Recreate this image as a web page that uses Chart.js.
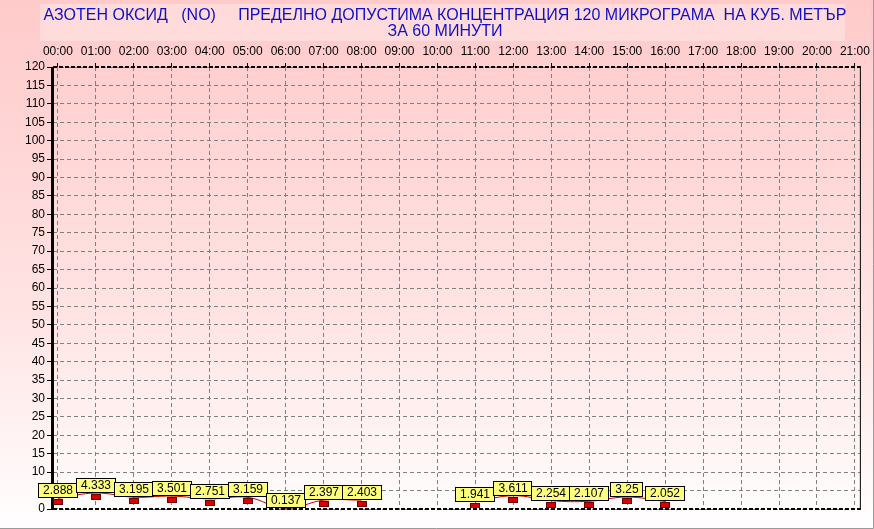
<!DOCTYPE html>
<html>
<head>
<meta charset="utf-8">
<script src="https://cdn.jsdelivr.net/npm/chart.js@4.4.1/dist/chart.umd.min.js"></script>
<style>
  html, body { margin: 0; padding: 0; background: #fff; }
  #chart { display: block; }
</style>
</head>
<body>
<canvas id="chart" width="874" height="529"></canvas>
<script>
// Data definitions
const hourLabels = ['00:00', '01:00', '02:00', '03:00', '04:00', '05:00', '06:00', '07:00', '08:00', '09:00', '10:00',
  '11:00', '12:00', '13:00', '14:00', '15:00', '16:00', '17:00', '18:00', '19:00', '20:00', '21:00'];
const noValues = [2.888, 4.333, 3.195, 3.501, 2.751, 3.159, 0.137, 2.397, 2.403, null, null, 1.941, 3.611, 2.254, 2.107, 3.25, 2.052];
const yTickValues = [0, 5, 10, 15, 20, 25, 30, 35, 40, 45, 50, 55, 60, 65, 70, 75, 80, 85, 90, 95, 100, 105, 110, 115, 120];
const titleLines = ['АЗОТЕН ОКСИД   (NO)     ПРЕДЕЛНО ДОПУСТИМА КОНЦЕНТРАЦИЯ 120 МИКРОГРАМА  НА КУБ. МЕТЪР', 'ЗА 60 МИНУТИ'];

const FONT = '"Liberation Sans", Arial, sans-serif';

// background gradient + title box, borders and value boxes on top
const backdrop = {
  id: 'backdrop',
  beforeDraw(chart) {
    const ctx = chart.ctx;
    const w = chart.width, h = chart.height;
    ctx.save();
    const g = ctx.createLinearGradient(0, 0, 0, h);
    g.addColorStop(0, '#ffcaca');
    g.addColorStop(0.6, '#ffe4e4');
    g.addColorStop(1, '#ffffff');
    ctx.fillStyle = g;
    ctx.fillRect(0, 0, w, h);
    ctx.fillStyle = 'rgba(255,255,255,0.3)';
    ctx.fillRect(40, 4, 805, 37);
    ctx.fillStyle = '#1010c0';
    ctx.font = '16px ' + FONT;
    ctx.textAlign = 'center';
    ctx.textBaseline = 'middle';
    ctx.fillText(titleLines[0], 445, 16);
    ctx.fillText(titleLines[1], 445, 32);
    ctx.restore();
  },
  afterDraw(chart) {
    const ctx = chart.ctx;
    const a = chart.chartArea;
    ctx.save();
    ctx.strokeStyle = '#000';
    // left axis
    ctx.lineWidth = 3;
    ctx.beginPath(); ctx.moveTo(a.left - 0.5, a.top); ctx.lineTo(a.left - 0.5, a.bottom + 1); ctx.stroke();
    // right border
    ctx.lineWidth = 1;
    ctx.beginPath(); ctx.moveTo(a.right + 0.5, a.top); ctx.lineTo(a.right + 0.5, a.bottom); ctx.stroke();
    // top / bottom dashed
    ctx.lineWidth = 2;
    ctx.setLineDash([4, 2]);
    ctx.beginPath(); ctx.moveTo(a.left, a.top); ctx.lineTo(a.right + 1, a.top); ctx.stroke();
    ctx.beginPath(); ctx.moveTo(a.left, a.bottom); ctx.lineTo(a.right + 1, a.bottom); ctx.stroke();
    ctx.setLineDash([]);
    // window frame
    ctx.strokeStyle = '#9a9a9a';
    ctx.lineWidth = 1;
    ctx.beginPath();
    ctx.moveTo(chart.width - 0.5, 0); ctx.lineTo(chart.width - 0.5, chart.height - 0.5); ctx.lineTo(0, chart.height - 0.5);
    ctx.stroke();

    // markers (clipped to plot) and yellow value boxes
    const meta = chart.getDatasetMeta(0);
    ctx.font = '12px ' + FONT;
    ctx.textAlign = 'center';
    ctx.textBaseline = 'middle';
    meta.data.forEach((pt, i) => {
      const v = noValues[i];
      if (v === null) return;
      const x = Math.round(pt.x), y = Math.round(pt.y);
      ctx.save();
      ctx.beginPath();
      ctx.rect(a.left, a.top, a.right - a.left, a.bottom - a.top - 1);
      ctx.clip();
      ctx.fillStyle = '#d80000';
      ctx.fillRect(x - 5, y + 1, 10, 6);
      ctx.strokeStyle = '#700000';
      ctx.lineWidth = 1;
      ctx.strokeRect(x - 4.5, y + 1.5, 9, 5);
      ctx.restore();
      const txt = String(v);
      const bw = Math.round(ctx.measureText(txt).width) + 10;
      const bx = x - Math.round(bw / 2);
      ctx.fillStyle = '#ffff80';
      ctx.fillRect(bx, y - 15, bw, 15);
      ctx.strokeStyle = '#000';
      ctx.lineWidth = 1;
      ctx.strokeRect(bx + 0.5, y - 14.5, bw - 1, 14);
      ctx.fillStyle = '#000';
      ctx.fillText(txt, x, y - 7);
    });
    ctx.restore();
  }
};

new Chart(document.getElementById('chart').getContext('2d'), {
  type: 'line',
  data: {
    datasets: [{
      label: 'NO',
      data: noValues.map((v, i) => ({ x: i, y: v })),
      borderColor: '#c00000',
      borderWidth: 1,
      pointRadius: 0,
      tension: 0.4,
      spanGaps: false
    }]
  },
  options: {
    responsive: false,
    animation: false,
    layout: { padding: { top: 0, right: 9, bottom: 20, left: 0 } },
    plugins: {
      legend: { display: false },
      tooltip: { enabled: false }
    },
    scales: {
      x: {
        type: 'linear',
        position: 'top',
        min: -0.13,
        max: 21.13,
        afterBuildTicks(scale) {
          scale.ticks = hourLabels.map((_, i) => ({ value: i }));
        },
        afterFit(scale) { scale.height = 67; },
        ticks: {
          autoSkip: false,
          maxRotation: 0,
          padding: 4,
          color: '#000',
          font: { family: FONT, size: 12 },
          callback: (v) => hourLabels[v]
        },
        grid: {
          color: '#808080',
          tickColor: '#000',
          tickLength: 4,
          tickBorderDash: []
        },
        border: { display: false, dash: [4, 3] }
      },
      y: {
        min: 0,
        max: 120,
        afterBuildTicks(scale) {
          scale.ticks = yTickValues.map(v => ({ value: v }));
        },
        afterFit(scale) { scale.width = 53; },
        ticks: {
          padding: 2,
          color: '#000',
          font: { family: FONT, size: 12 }
        },
        grid: {
          color: '#808080',
          tickColor: '#000',
          tickLength: 6,
          tickBorderDash: []
        },
        border: { display: false, dash: [4, 3] }
      }
    }
  },
  plugins: [backdrop]
});
</script>
</body>
</html>
